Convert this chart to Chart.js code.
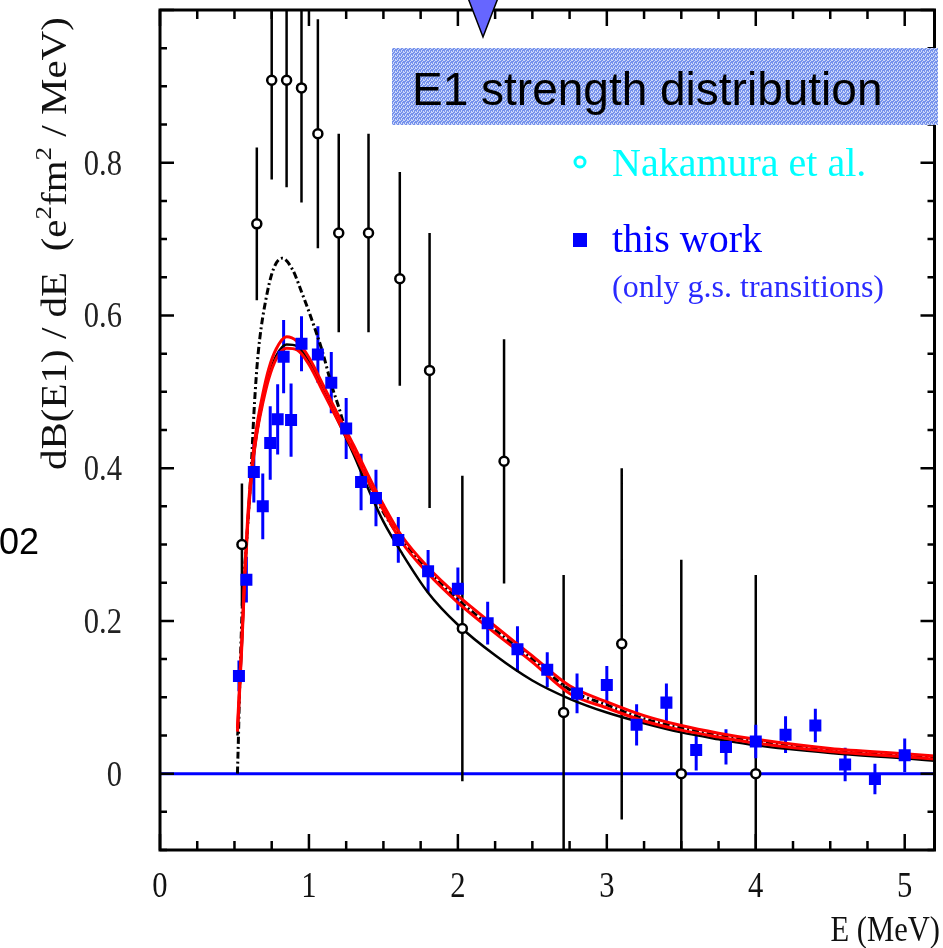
<!DOCTYPE html>
<html>
<head>
<meta charset="utf-8">
<title>E1 strength distribution</title>
<script src="https://cdn.jsdelivr.net/npm/chart.js@4.4.1/dist/chart.umd.min.js"></script>
<style>
  html, body { margin: 0; padding: 0; background: #fff; }
  canvas { display: block; }
</style>
</head>
<body>
<canvas id="e1Chart" width="943" height="948"></canvas>
<script>
// Nakamura et al. (open circles), E in MeV, dB/dE in e^2 fm^2 / MeV
const nakE   = [0.55, 0.65, 0.75, 0.85, 0.95, 1.06, 1.2, 1.4, 1.61, 1.81, 2.03, 2.31, 2.71, 3.1, 3.5, 4.0];
const nakB   = [0.30, 0.72, 0.908, 0.908, 0.898, 0.838, 0.708, 0.708, 0.648, 0.528, 0.19, 0.409, 0.08, 0.17, 0.0, 0.0];
const nakErr = [0.08, 0.10, 0.13, 0.14, 0.15, 0.15, 0.13, 0.13, 0.14, 0.18, 0.20, 0.16, 0.18, 0.23, 0.28, 0.26];

// this work (filled squares, only g.s. transitions)
const workE   = [0.53, 0.58, 0.63, 0.69, 0.74, 0.79, 0.83, 0.88, 0.95, 1.06, 1.15, 1.25, 1.35, 1.45, 1.6, 1.8,
                 2.0, 2.2, 2.4, 2.6, 2.8, 3.0, 3.2, 3.4, 3.6, 3.8, 4.0, 4.2, 4.4, 4.6, 4.8, 5.0];
const workB   = [0.128, 0.254, 0.395, 0.35, 0.433, 0.464, 0.546, 0.463, 0.563, 0.549, 0.512, 0.452, 0.382, 0.361, 0.306, 0.265,
                 0.242, 0.197, 0.163, 0.136, 0.105, 0.116, 0.064, 0.093, 0.031, 0.035, 0.042, 0.051, 0.063, 0.012, -0.007, 0.024];
const workErr = [0.02, 0.03, 0.04, 0.043, 0.048, 0.046, 0.048, 0.048, 0.036, 0.037, 0.04, 0.04, 0.037, 0.037, 0.03, 0.028,
                 0.028, 0.028, 0.03, 0.023, 0.026, 0.025, 0.027, 0.025, 0.027, 0.023, 0.022, 0.024, 0.022, 0.022, 0.02, 0.022];

// model curves
const dashDotE = [0.52, 0.527, 0.533, 0.547, 0.555, 0.58, 0.6, 0.615, 0.63, 0.65, 0.67, 0.71, 0.76, 0.82, 0.89, 0.95,
                  1.02, 1.09, 1.15, 1.2, 1.25, 1.35, 1.45, 1.62, 1.8, 2.0, 2.25, 2.5, 2.75, 3.0, 3.25, 3.5, 3.75, 4.0, 4.5, 5.0, 5.2];
const dashDotB = [0.0, 0.05, 0.1, 0.19, 0.23, 0.3, 0.36, 0.41, 0.47, 0.53, 0.57, 0.62, 0.66, 0.675, 0.66, 0.631,
                  0.594, 0.553, 0.51, 0.48, 0.448, 0.405, 0.36, 0.307, 0.266, 0.228, 0.188, 0.15, 0.11, 0.09, 0.072, 0.06, 0.05, 0.042, 0.031, 0.024, 0.021];

const calcE = [0.52, 0.53, 0.55, 0.57, 0.59, 0.62, 0.65, 0.69, 0.73, 0.78, 0.85, 0.92, 1.0, 1.1, 1.2, 1.3,
               1.4, 1.5, 1.62, 1.8, 2.0, 2.25, 2.5, 2.75, 3.0, 3.25, 3.5, 3.75, 4.0, 4.5, 5.0, 5.2];
const solidB    = [0.05, 0.09, 0.17, 0.26, 0.33, 0.40, 0.445, 0.488, 0.52, 0.547, 0.562, 0.56, 0.54, 0.5, 0.46, 0.418,
                   0.372, 0.33, 0.29, 0.237, 0.195, 0.155, 0.122, 0.098, 0.08, 0.066, 0.054, 0.045, 0.037, 0.027, 0.02, 0.017];
const redUpperB = [0.06, 0.10, 0.18, 0.27, 0.34, 0.41, 0.455, 0.497, 0.53, 0.556, 0.572, 0.566, 0.545, 0.507, 0.468, 0.43,
                   0.39, 0.352, 0.312, 0.27, 0.233, 0.193, 0.154, 0.115, 0.094, 0.076, 0.063, 0.053, 0.045, 0.033, 0.026, 0.023];
const redLowerB = [0.055, 0.09, 0.17, 0.26, 0.33, 0.40, 0.445, 0.485, 0.517, 0.543, 0.557, 0.555, 0.536, 0.498, 0.46, 0.422,
                   0.382, 0.345, 0.304, 0.262, 0.224, 0.184, 0.146, 0.105, 0.086, 0.069, 0.057, 0.048, 0.04, 0.029, 0.022, 0.019];

// axis labels
const xTicks = [0, 1, 2, 3, 4, 5];
const xTickLabels = ['0', '1', '2', '3', '4', '5'];
const yTicks = [0, 0.2, 0.4, 0.6, 0.8];
const yTickLabels = ['0', '0.2', '0.4', '0.6', '0.8'];

const SERIF = '"Liberation Serif", "Times New Roman", serif';
const SANS = '"Liberation Sans", Arial, sans-serif';

const toPoints = (xs, ys) => xs.map((x, i) => ({ x: x, y: ys[i] }));

// serif text, squeezed horizontally like the rest of the plot lettering
function serifText(ctx, text, x, y, size, align, color, squeeze) {
    ctx.save();
    ctx.translate(x, y);
    ctx.scale(squeeze, 1);
    ctx.font = size + 'px ' + SERIF;
    ctx.fillStyle = color;
    ctx.textAlign = align;
    ctx.textBaseline = 'alphabetic';
    ctx.fillText(text, 0, 0);
    ctx.restore();
}

function drawErrorBars(ctx, xs, ys, xv, yv, ev, color, width) {
    ctx.strokeStyle = color;
    ctx.lineWidth = width;
    ctx.beginPath();
    xv.forEach((e, i) => {
        const px = xs.getPixelForValue(e);
        ctx.moveTo(px, ys.getPixelForValue(yv[i] - ev[i]));
        ctx.lineTo(px, ys.getPixelForValue(yv[i] + ev[i]));
    });
    ctx.stroke();
}

function boxPattern(ctx) {
    const c = document.createElement('canvas');
    c.width = 4;
    c.height = 4;
    const p = c.getContext('2d');
    p.fillStyle = 'rgb(118,146,236)';
    p.fillRect(0, 0, 4, 4);
    p.fillStyle = 'rgb(205,216,250)';
    [[0, 0], [2, 1], [1, 2], [3, 3], [3, 0], [1, 3]].forEach(([i, j]) => p.fillRect(i, j, 1, 1));
    return ctx.createPattern(c, 'repeat');
}

const plotDecor = {
    id: 'plotDecor',
    beforeDatasetsDraw(chart) {
        const { ctx, chartArea: a, scales: { x, y } } = chart;
        ctx.save();
        ctx.beginPath();
        ctx.rect(a.left, a.top, a.right - a.left, a.bottom - a.top);
        ctx.clip();

        // zero line
        const y0 = y.getPixelForValue(0);
        ctx.strokeStyle = '#0000ff';
        ctx.lineWidth = 3;
        ctx.beginPath();
        ctx.moveTo(a.left, y0);
        ctx.lineTo(a.right, y0);
        ctx.stroke();

        drawErrorBars(ctx, x, y, nakE, nakB, nakErr, '#000', 2.5);
        drawErrorBars(ctx, x, y, workE, workB, workErr, '#0000ff', 3);
        ctx.restore();
    },
    afterDraw(chart) {
        const { ctx, chartArea: a, scales: { x, y } } = chart;
        ctx.save();

        // frame
        ctx.strokeStyle = '#000';
        ctx.lineWidth = 3;
        ctx.strokeRect(a.left, a.top, a.right - a.left, a.bottom - a.top);

        // inward tick marks
        ctx.lineWidth = 2.5;
        ctx.beginPath();
        for (let k = 0; k * 0.25 <= x.max + 1e-9; k++) {
            const px = x.getPixelForValue(k * 0.25);
            const len = k % 4 === 0 ? 16 : 9;
            ctx.moveTo(px, a.bottom);
            ctx.lineTo(px, a.bottom - len);
            ctx.moveTo(px, a.top);
            ctx.lineTo(px, a.top + len);
        }
        for (let k = -2; k * 0.05 <= y.max + 1e-9; k++) {
            const py = y.getPixelForValue(k * 0.05);
            const len = k % 4 === 0 ? 14 : 7;
            ctx.moveTo(a.left, py);
            ctx.lineTo(a.left + len, py);
            ctx.moveTo(a.right, py);
            ctx.lineTo(a.right - len, py);
        }
        ctx.stroke();

        // tick labels
        xTicks.forEach((v, i) => {
            serifText(ctx, xTickLabels[i], x.getPixelForValue(v), 897, 36, 'center', '#111', 0.85);
        });
        yTicks.forEach((v, i) => {
            serifText(ctx, yTickLabels[i], 122, y.getPixelForValue(v) + 12, 36, 'right', '#222', 0.85);
        });

        // axis titles
        serifText(ctx, 'E (MeV)', 940, 941, 36, 'right', '#111', 0.85);

        ctx.save();
        ctx.translate(66, 470);
        ctx.rotate(-Math.PI / 2);
        ctx.scale(1, 0.85);
        ctx.fillStyle = '#111';
        ctx.textBaseline = 'alphabetic';
        ctx.textAlign = 'left';
        let tx = 0;
        [['dB(E1) / dE  (e', false], ['2', true], ['fm', false], ['2', true], [' / MeV)', false]].forEach(([s, sup]) => {
            ctx.font = (sup ? 27 : 41) + 'px ' + SERIF;
            ctx.fillText(s, tx, sup ? -18 : 0);
            tx += ctx.measureText(s).width;
        });
        ctx.restore();

        // legend
        ctx.lineWidth = 3;
        ctx.strokeStyle = '#00ffff';
        ctx.beginPath();
        ctx.arc(580, 162, 5, 0, Math.PI * 2);
        ctx.stroke();
        serifText(ctx, 'Nakamura et al.', 612, 176, 40, 'left', '#00ffff', 1);
        ctx.fillStyle = '#0000ff';
        ctx.fillRect(573, 233, 14, 14);
        serifText(ctx, 'this work', 612, 252, 40, 'left', '#0000ff', 1);
        serifText(ctx, '(only g.s. transitions)', 612, 297, 32, 'left', '#2a2aff', 1);

        // title box
        ctx.fillStyle = boxPattern(ctx);
        ctx.fillRect(392, 48, 546, 77);
        ctx.fillStyle = '#000';
        ctx.font = '46px ' + SANS;
        ctx.textAlign = 'left';
        ctx.textBaseline = 'alphabetic';
        ctx.fillText('E1 strength distribution', 412, 105);

        // slide number fragment
        ctx.font = '36px ' + SANS;
        ctx.fillStyle = '#000';
        ctx.fillText('02', -1, 554);

        // arrow marker at the top
        ctx.fillStyle = 'rgb(102,102,255)';
        ctx.strokeStyle = '#000';
        ctx.lineWidth = 1.5;
        ctx.beginPath();
        ctx.moveTo(468, -2);
        ctx.lineTo(498, -2);
        ctx.lineTo(483, 37);
        ctx.closePath();
        ctx.fill();
        ctx.stroke();
        ctx.restore();
    }
};

const curve = (xs, ys, color, width, dash) => ({
    type: 'line',
    data: toPoints(xs, ys),
    borderColor: color,
    borderWidth: width,
    borderDash: dash || [],
    pointRadius: 0,
    fill: false,
    cubicInterpolationMode: 'monotone',
});

const chart = new Chart(document.getElementById('e1Chart'), {
    type: 'scatter',
    data: {
        datasets: [
            {
                label: 'this work',
                data: toPoints(workE, workB),
                pointStyle: 'rect',
                pointRadius: 8.5,
                backgroundColor: '#0000ff',
                borderColor: '#0000ff',
                borderWidth: 0,
                order: 0,
            },
            {
                label: 'Nakamura et al.',
                data: toPoints(nakE, nakB),
                pointStyle: 'circle',
                pointRadius: 4.5,
                backgroundColor: '#fff',
                borderColor: '#000',
                borderWidth: 2.5,
                order: 1,
            },
            Object.assign(curve(calcE, redUpperB, '#ff0000', 3), { order: 2 }),
            Object.assign(curve(calcE, redLowerB, '#ff0000', 3), { order: 3 }),
            Object.assign(curve(calcE, solidB, '#000', 2.5), { order: 4 }),
            Object.assign(curve(dashDotE, dashDotB, '#000', 3, [7, 3, 2, 3]), { order: 5 }),
        ],
    },
    options: {
        responsive: false,
        devicePixelRatio: 1,
        animation: false,
        layout: { padding: { left: 160, right: 3, top: 10, bottom: 98 } },
        scales: {
            x: { type: 'linear', min: 0, max: 5.2, display: false },
            y: { type: 'linear', min: -0.1, max: 1.0, display: false },
        },
        plugins: {
            legend: { display: false },
            tooltip: { enabled: false },
        },
    },
    plugins: [plotDecor],
});
</script>
</body>
</html>
